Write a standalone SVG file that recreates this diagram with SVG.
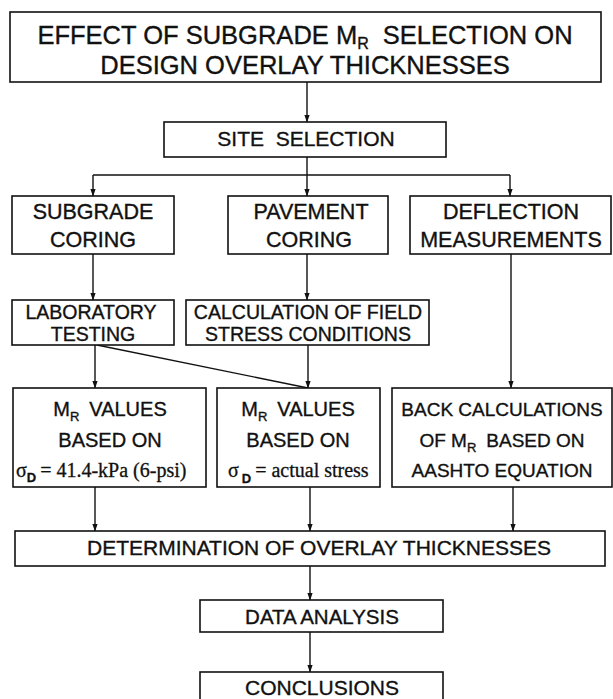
<svg xmlns="http://www.w3.org/2000/svg" width="613" height="699" viewBox="0 0 613 699">
<defs>
<style>
.box{fill:#fff;stroke:#111;stroke-width:1.6}
.t{font-family:"Liberation Sans",Arial,sans-serif;fill:#111;stroke:#111;stroke-width:0.35;text-anchor:middle}
.s{font-family:"Liberation Serif","Times New Roman",serif;fill:#111;stroke:#111;stroke-width:0.3}
.c{fill:none;stroke:#111;stroke-width:1.4}
</style>
<marker id="ah" viewBox="0 0 8 8" refX="7.5" refY="4" markerWidth="8" markerHeight="8" markerUnits="userSpaceOnUse" orient="auto">
<path d="M0,1.2 L8,4 L0,6.8 Z" fill="#111"/>
</marker>
</defs>
<rect width="613" height="699" fill="#fff"/>

<g id="connectors">
<path class="c" d="M307,82 V122" marker-end="url(#ah)"/>
<path class="c" d="M307,157 V175"/>
<path class="c" d="M93,175 H510"/>
<path class="c" d="M93,175 V196" marker-end="url(#ah)"/>
<path class="c" d="M307,175 V196" marker-end="url(#ah)"/>
<path class="c" d="M510,175 V196" marker-end="url(#ah)"/>
<path class="c" d="M93,254 V300" marker-end="url(#ah)"/>
<path class="c" d="M307,254 V300" marker-end="url(#ah)"/>
<path class="c" d="M511,254 V388" marker-end="url(#ah)"/>
<path class="c" d="M95,345 V388" marker-end="url(#ah)"/>
<path class="c" d="M308,345 V388" marker-end="url(#ah)"/>
<path class="c" d="M97,345 L308,388"/>
<path class="c" d="M95,487 V531" marker-end="url(#ah)"/>
<path class="c" d="M310,487 V531" marker-end="url(#ah)"/>
<path class="c" d="M513,487 V531" marker-end="url(#ah)"/>
<path class="c" d="M310,566 V600" marker-end="url(#ah)"/>
<path class="c" d="M310,632 V672" marker-end="url(#ah)"/>
</g>

<g id="title">
<rect class="box" x="10" y="12" width="591" height="70"/>
<text class="t" x="305" y="44" font-size="25.5">EFFECT OF SUBGRADE M<tspan font-size="16" dy="5">R</tspan><tspan dy="-5" dx="14">SELECTION ON</tspan></text>
<text class="t" x="305" y="74" font-size="25.5">DESIGN OVERLAY THICKNESSES</text>
</g>

<g id="site">
<rect class="box" x="164" y="122" width="282" height="35"/>
<text class="t" x="306" y="146" font-size="21" xml:space="preserve">SITE  SELECTION</text>
</g>

<g id="subgrade">
<rect class="box" x="12" y="196" width="162" height="58"/>
<text class="t" x="93" y="219" font-size="21.5">SUBGRADE</text>
<text class="t" x="93" y="247" font-size="21.5">CORING</text>
</g>

<g id="pavement">
<rect class="box" x="228" y="196" width="160" height="58"/>
<text class="t" x="311" y="219" font-size="21.5">PAVEMENT</text>
<text class="t" x="309" y="247" font-size="21.5">CORING</text>
</g>

<g id="deflection">
<rect class="box" x="410" y="196" width="201" height="58"/>
<text class="t" x="511" y="219" font-size="21.5">DEFLECTION</text>
<text class="t" x="511" y="247" font-size="21.5">MEASUREMENTS</text>
</g>

<g id="lab">
<rect class="box" x="12" y="300" width="162" height="45"/>
<text class="t" x="91" y="319" font-size="19.5">LABORATORY</text>
<text class="t" x="93" y="341" font-size="19.5">TESTING</text>
</g>

<g id="calc">
<rect class="box" x="186" y="300" width="243" height="45"/>
<text class="t" x="308" y="319" font-size="19.5">CALCULATION OF FIELD</text>
<text class="t" x="308" y="341" font-size="19.5">STRESS CONDITIONS</text>
</g>

<g id="mr1">
<rect class="box" x="13" y="388" width="193" height="99"/>
<text class="t" x="110" y="416" font-size="20">M<tspan font-size="13" dy="5">R</tspan><tspan dy="-5" dx="10">VALUES</tspan></text>
<text class="t" x="110" y="447" font-size="20">BASED ON</text>
<text class="s" x="16" y="477" font-size="20">σ<tspan font-family="Liberation Sans,Arial,sans-serif" font-size="13" font-weight="bold" dy="5">D</tspan><tspan dy="-5" dx="4">= 41.4-kPa (6-psi)</tspan></text>
</g>

<g id="mr2">
<rect class="box" x="217" y="388" width="163" height="99"/>
<text class="t" x="298" y="416" font-size="20">M<tspan font-size="13" dy="5">R</tspan><tspan dy="-5" dx="10">VALUES</tspan></text>
<text class="t" x="298" y="447" font-size="20">BASED ON</text>
<text class="s" x="228" y="477" font-size="20">σ<tspan font-family="Liberation Sans,Arial,sans-serif" font-size="13" font-weight="bold" dy="6" dx="3">D</tspan><tspan dy="-6" dx="4">= actual stress</tspan></text>
</g>

<g id="backcalc">
<rect class="box" x="392" y="388" width="220" height="99"/>
<text class="t" x="502" y="416" font-size="19">BACK CALCULATIONS</text>
<text class="t" x="502" y="447" font-size="19">OF M<tspan font-size="13" dy="5">R</tspan><tspan dy="-5" dx="10">BASED ON</tspan></text>
<text class="t" x="502" y="477" font-size="19">AASHTO EQUATION</text>
</g>

<g id="determination">
<rect class="box" x="15" y="531" width="590" height="35"/>
<text class="t" x="319" y="555" font-size="21">DETERMINATION OF OVERLAY THICKNESSES</text>
</g>

<g id="data">
<rect class="box" x="200" y="600" width="243" height="32"/>
<text class="t" x="322" y="624" font-size="20.5">DATA ANALYSIS</text>
</g>

<g id="conclusions">
<rect class="box" x="200" y="672" width="243" height="32"/>
<text class="t" x="322" y="695" font-size="21">CONCLUSIONS</text>
</g>
</svg>
